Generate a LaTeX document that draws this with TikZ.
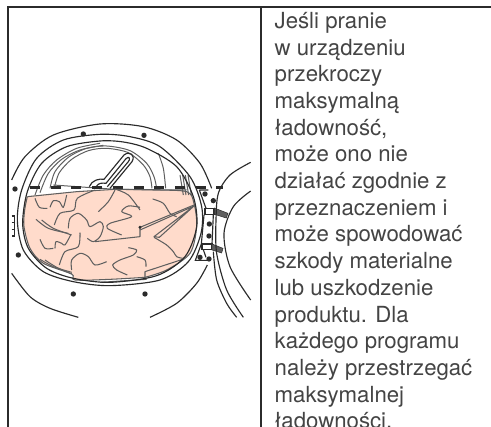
\documentclass[tikz,border=0pt]{standalone}
\usepackage{fontspec}
\setmainfont{TeX Gyre Heros}
\definecolor{cpink}{HTML}{FFDBCB}
\definecolor{cdark}{HTML}{2B2B2B}
\definecolor{cgrey}{HTML}{5F5F5F}
\definecolor{ctext}{HTML}{444444}
\begin{document}
\begin{tikzpicture}[
  x=1pt,y=-1pt,
  frame/.style={draw=cdark,line width=1.3pt},
  ring/.style={draw=cdark,line width=1.15pt},
  drum/.style={draw=cgrey,line width=1pt},
  wrinkle/.style={draw=cgrey,line width=1.05pt,line join=round},
  pin/.style={fill=cdark,draw=none},
  tab/.style={fill=cgrey,draw=cdark,line width=0.5pt},
  opis/.style={anchor=north west,align=left,inner sep=0pt,text=ctext,font=\fontsize{22.2}{26.7}\selectfont}]
  \useasboundingbox (0,0) rectangle (491,427);
  \clip (0,0) rectangle (491,427);
  % table lines
  \draw[frame] (8,427)--(8,7)--(491,7);
  \draw[frame] (261,7)--(261,427);
  \node[opis] (opis) at (274.5,12) {Jeśli pranie\\w urządzeniu\\przekroczy\\maksymalną\\ładowność,\\może ono nie\\działać zgodnie z\\przeznaczeniem i\\może spowodować\\szkody materialne\\lub uszkodzenie\\produktu. Dla\\każdego programu\\należy przestrzegać\\maksymalnej\\ładowności.};
  % door, in units of a third of a pixel
  \begin{scope}[shift={(0,120)},scale=1/3]
    % laundry
    \fill[cpink] plot[smooth cycle,tension=0.35] coordinates {(82,230) (230,215) (345,208) (460,210) (560,215) (582,250) (590,320) (570,400) (500,450) (435,472) (330,478) (225,480) (215,462) (130,430) (90,385) (72,320) (74,270)};
    % drum
    \draw[drum] plot[smooth] coordinates {(105,225) (130,165) (170,120) (230,85) (300,70)};
    \draw[drum] plot[smooth] coordinates {(120,218) (145,160) (185,118) (240,90) (310,76)};
    \draw[drum] plot[smooth] coordinates {(150,205) (165,155) (205,112) (260,85) (320,78) (390,92) (440,130) (462,170) (470,205)};
    \draw[drum] plot[smooth] coordinates {(163,203) (178,158) (215,118) (265,92) (320,85) (385,98) (430,135) (450,170) (456,205)};
    \draw[drum] plot[smooth] coordinates {(475,100) (490,145) (497,205)};
    \foreach \hx in {540,548,556,564}
      \draw[drum] (\hx,165)--({\hx+10},225);
    \draw[drum] (160,195)--(345,208)--(560,210);
    % paddle
    \draw[ring] (268,200) .. controls (275,180) and (300,175) .. (312,178) -- (372,105) .. controls (388,92) and (408,105) .. (396,125) -- (330,205);
    \draw[ring] (290,198) .. controls (295,190) and (305,188) .. (318,190) -- (378,116) .. controls (388,106) and (392,118) .. (385,125) -- (322,200);
    % dashed level
    \draw[cdark,line width=3pt,dash pattern=on 10pt off 10.7pt] (90,203)--(670,203);
    \fill[pin] (45,207) circle (8);
    % laundry outline and folds
    \draw[wrinkle] (82,230)--(230,215)--(345,208);
    \draw[wrinkle] plot[smooth,tension=0.5] coordinates {(345,208) (460,210) (560,215) (582,250) (590,320) (570,400) (500,450) (435,472)};
    \draw[wrinkle] plot[smooth,tension=0.5] coordinates {(82,230) (74,270) (72,320) (90,385) (130,430) (215,462) (225,480) (330,478) (435,472)};
    \draw[wrinkle] plot[smooth] coordinates {(105,235) (118,262) (142,265)};
    \draw[wrinkle] plot[smooth] coordinates {(150,262) (160,242) (178,245) (190,262) (200,225)};
    \draw[wrinkle] plot[smooth] coordinates {(285,210) (232,235) (222,270) (180,280) (163,315)};
    \draw[wrinkle] plot[smooth] coordinates {(345,210) (325,245) (295,275)};
    \draw[wrinkle] plot[smooth] coordinates {(345,207) (385,225) (420,270)};
    \draw[wrinkle] plot[smooth] coordinates {(420,262) (385,258) (365,275) (395,290) (330,310) (322,325) (365,345)};
    \draw[wrinkle] plot[smooth] coordinates {(458,237) (490,250) (510,280) (530,290)};
    \draw[wrinkle] plot[smooth] coordinates {(205,325) (210,295) (235,280) (260,300) (270,320) (300,305) (310,320) (300,350) (280,365) (262,355)};
    \draw[wrinkle] plot[smooth] coordinates {(108,298) (145,325) (205,340)};
    \draw[wrinkle] plot[smooth] coordinates {(125,300) (160,325) (215,345)};
    \draw[wrinkle] plot[smooth] coordinates {(120,358) (135,385) (160,385)};
    \draw[wrinkle] plot[smooth] coordinates {(165,385) (168,365) (185,370) (195,375) (212,345)};
    \draw[wrinkle] plot[smooth] coordinates {(240,338) (235,380) (195,395) (178,435)};
    \draw[wrinkle] plot[smooth] coordinates {(215,450) (215,420) (240,400) (265,410) (285,435) (320,425)};
    \draw[wrinkle] plot[smooth] coordinates {(385,383) (410,390) (400,405) (360,420) (338,435) (350,450) (382,465)};
    \draw[wrinkle] plot[smooth] coordinates {(410,410) (435,420) (438,440)};
    \draw[wrinkle] plot[smooth] coordinates {(120,418) (160,440) (215,457)};
    \draw[wrinkle] plot[smooth] coordinates {(135,420) (170,442) (215,462)};
    \draw[wrinkle] (285,365)--(420,350)--(420,322)--(582,255);
    \draw[wrinkle] (420,330)--(582,258)--(462,350)--(478,352)--(582,258);
    \draw[wrinkle] plot[smooth] coordinates {(462,352) (500,375) (520,395) (530,410) (548,415)};
    \draw[wrinkle] (548,418)--(435,455)--(435,472);
    \draw[wrinkle] (300,487)--(440,478);
    \fill[pin] (420,322) circle (5);
    % door rings
    \draw[ring] plot[smooth] coordinates {(35,180) (75,110) (160,45) (300,12) (430,20) (530,60) (600,130) (635,205)};
    \draw[ring] plot[smooth] coordinates {(622,435) (590,490) (530,550) (450,592)};
    \draw[ring] plot[smooth] coordinates {(35,460) (90,530) (150,565) (235,592)};
    \draw[ring] plot[smooth cycle] coordinates {(300,43) (190,60) (110,115) (65,210) (52,300) (70,390) (130,455) (220,485) (330,497) (480,480) (565,425) (603,340) (605,260) (570,170) (480,80) (390,50)};
    \draw[ring] plot[smooth cycle] coordinates {(300,63) (200,80) (125,130) (82,215) (68,310) (85,385) (140,445) (220,475) (330,487) (470,467) (555,410) (590,320) (580,230) (530,140) (440,85) (370,66)};
    % screws
    \foreach \px/\py in {250/42,432/46,55/405,220/522,435/522,628/312,627/348,615/222,640/242,600/412,627/417}
      \fill[pin] (\px,\py) circle (8);
    % catch on the left
    \draw[ring] (35,288)--(43,288)--(43,348)--(35,348);
    \draw[ring] (35,308)--(43,308) (35,328)--(43,328);
    % hinge
    \draw[ring] (598,210)--(618,265)--(640,270) (598,210)--(625,210);
    \draw[ring] (612,285)--(604,372) (640,285)--(636,372);
    \draw[ring] (604,372)--(586,421)--(628,421) (604,372)--(618,412);
    \draw[ring,fill=white] (615,266) rectangle (642,283);
    \draw[ring,fill=white] (606,372) rectangle (636,388);
    \draw[tab] (643,264)--(684,280)--(679,294)--(643,283)--cycle;
    \draw[tab] (636,372)--(669,385)--(665,399)--(636,390)--cycle;
    % next door
    \draw[ring] plot[smooth] coordinates {(752,127) (690,165) (655,220) (648,300) (650,400) (680,510) (730,592)};
    \draw[ring] plot[smooth] coordinates {(752,213) (700,260) (672,340) (690,440) (752,540)};
    \draw[ring] plot[smooth] coordinates {(640,395) (650,480) (680,550) (710,592)};
  \end{scope}
\end{tikzpicture}
\end{document}
